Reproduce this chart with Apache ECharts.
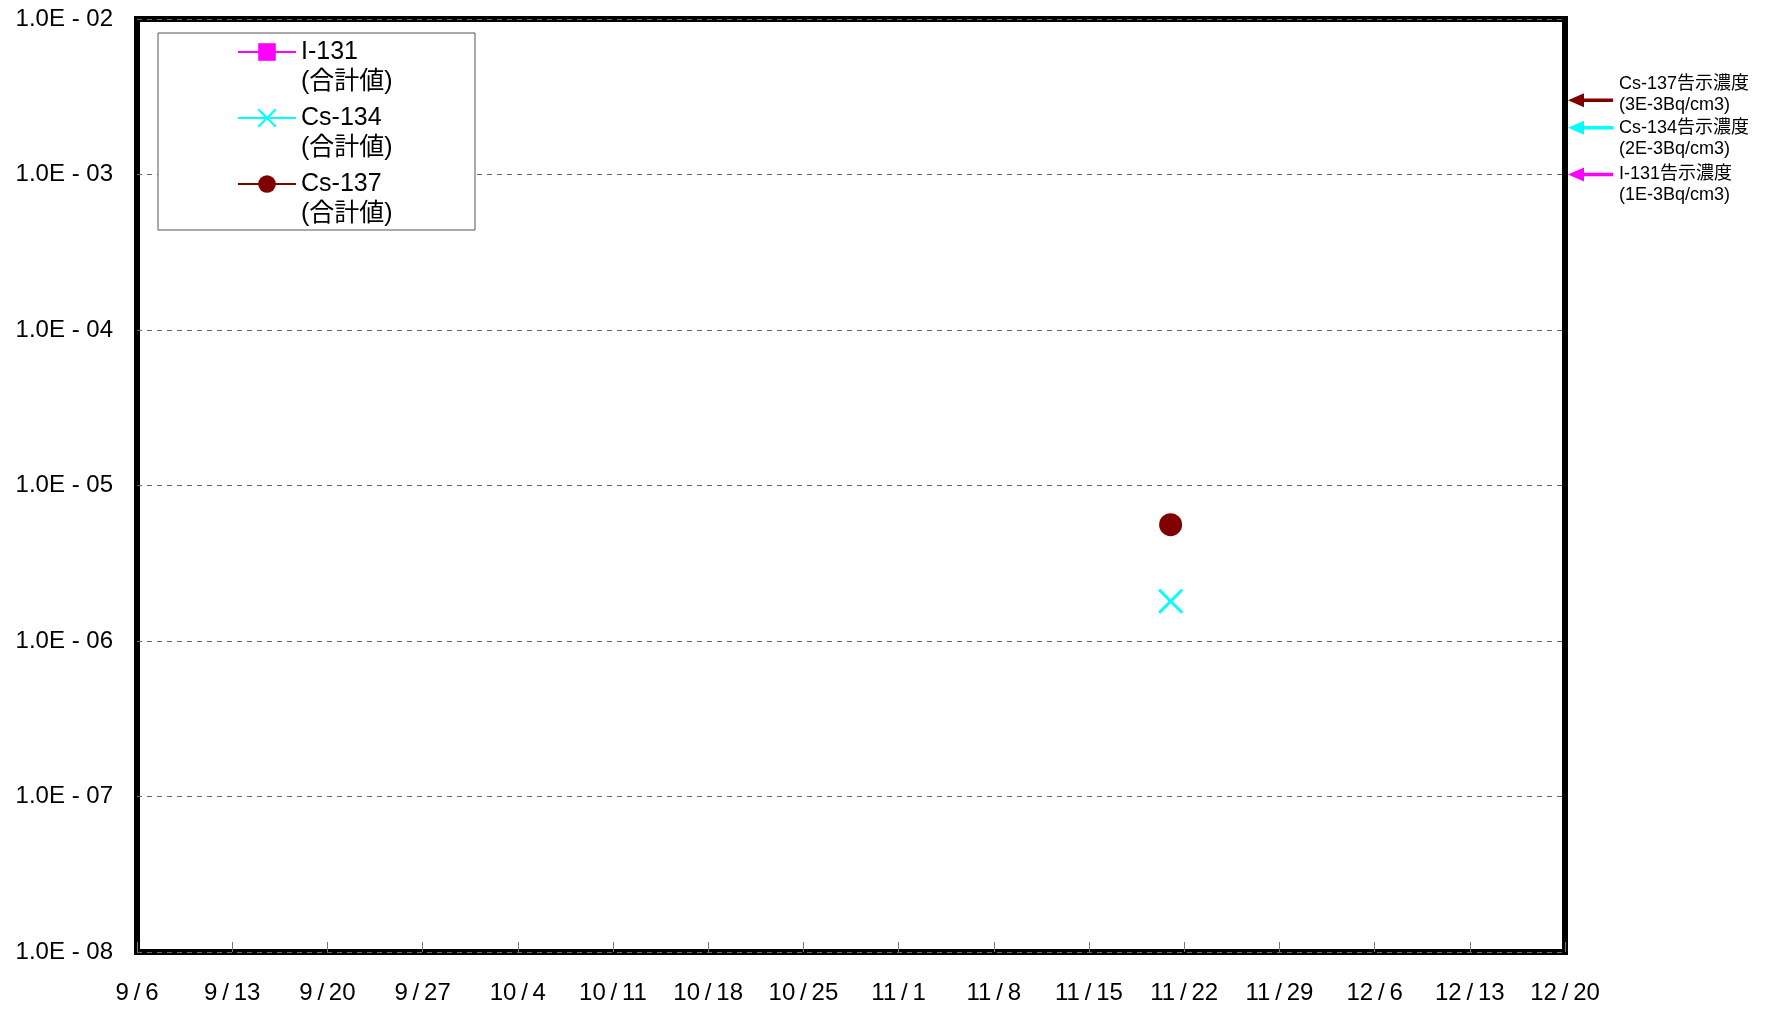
<!DOCTYPE html>
<html>
<head>
<meta charset="utf-8">
<title>放射性物質濃度の推移</title>
<script src="https://cdn.jsdelivr.net/npm/echarts@6/dist/echarts.min.js"></script>
<style>
    html, body { margin: 0; padding: 0; background: #fff; }
    #chart { width: 1771px; height: 1011px; }
</style>
</head>
<body>
<div id="chart"></div>
<script>
/** 測定日 (2011年) */
var sampleDates = ['11/21'];
/** 各核種の測定値 Bq/cm3 (合計値) , null = 不検出 */
var i131Values = [null];
var cs134Values = [1.8e-6];
var cs137Values = [5.6e-6];
/** x軸の目盛 (1週間ごと) */
var tickLabels = ['9/6', '9/13', '9/20', '9/27', '10/4', '10/11', '10/18', '10/25',
                  '11/1', '11/8', '11/15', '11/22', '11/29', '12/6', '12/13', '12/20'];
/** 告示濃度 */
var limitNames = ['Cs-137告示濃度', 'Cs-134告示濃度', 'I-131告示濃度'];
var limitNotes = ['(3E-3Bq/cm3)', '(2E-3Bq/cm3)', '(1E-3Bq/cm3)'];
var limitValues = [3e-3, 2e-3, 1e-3];

(function(win){
    var FONT = "'Liberation Sans', 'Noto Sans CJK JP', sans-serif";
    var COLOR_I131 = '#FF00FF', COLOR_CS134 = '#00FFFF', COLOR_CS137 = '#800000';
    var limitColors = [COLOR_CS137, COLOR_CS134, COLOR_I131];

    //9/6 からの日数
    var toDay = function(md){
        var p = md.split('/');
        return (Date.UTC(2011, p[0] - 1, +p[1]) - Date.UTC(2011, 8, 6)) / 86400000;
    };
    var toSeries = function(values){
        var arr = [];
        for(var i = 0; i < sampleDates.length; i++)
            arr.push([toDay(sampleDates[i]), values[i]]);
        return arr;
    };
    var pad2 = function(n){ return (n < 10 ? '0' : '') + n; };

    var dom = document.getElementById('chart');
    var chart = echarts.init(dom);
    var options = {
        animation: false,
        backgroundColor: '#fff',
        grid: {
            left: 137, right: 206, top: 19, bottom: 59,
            show: true,
            borderColor: '#000',
            borderWidth: 6
        },
        legend: {
            orient: 'vertical',
            left: 237,
            top: 7,
            padding: 0,
            itemGap: -24,
            itemWidth: 58,
            itemHeight: 22,
            selectedMode: false,
            //先頭の空行で1行目をアイコンの高さに合わせる
            formatter: function(name){ return '\n' + name + '\n(合計値)'; },
            textStyle: {
                fontFamily: FONT,
                fontSize: 25,
                lineHeight: 30,
                color: '#000'
            },
            data: ['I-131', 'Cs-134', 'Cs-137']
        },
        xAxis: {
            type: 'value',
            min: 0,
            max: (tickLabels.length - 1) * 7,
            interval: 7,
            axisLine: { show: false },
            axisTick: { show: true, inside: true, length: 10, lineStyle: { color: '#777', width: 1 } },
            splitLine: { show: false },
            axisLabel: {
                fontFamily: FONT,
                fontSize: 24,
                color: '#000',
                margin: 29,
                formatter: function(v){
                    var s = tickLabels[Math.round(v / 7)] || '';
                    return s.replace('/', '\u2009/\u2009');
                }
            }
        },
        yAxis: {
            type: 'log',
            logBase: 10,
            min: 1e-8,
            max: 1e-2,
            splitNumber: 6,
            axisLine: { show: false },
            axisTick: { show: false },
            splitLine: { show: true, lineStyle: { color: '#666', width: 1, type: [5, 5] } },
            axisLabel: {
                fontFamily: FONT,
                fontSize: 24,
                color: '#000',
                margin: 24,
                formatter: function(v){
                    var e = Math.round(Math.log(v) / Math.LN10);
                    var m = v / Math.pow(10, e);
                    return m.toFixed(1) + 'E ' + (e < 0 ? '- ' : '') + pad2(Math.abs(e));
                }
            }
        },
        series: [
            {
                name: 'I-131',
                type: 'line',
                symbol: 'rect',
                symbolSize: 20,
                color: COLOR_I131,
                lineStyle: { color: COLOR_I131, width: 2 },
                itemStyle: { color: COLOR_I131 },
                data: toSeries(i131Values)
            },
            {
                name: 'Cs-134',
                type: 'line',
                symbol: 'path://M0,0L20,20M20,0L0,20',
                symbolSize: 23,
                color: COLOR_CS134,
                lineStyle: { color: COLOR_CS134, width: 2 },
                itemStyle: { color: COLOR_CS134, borderColor: COLOR_CS134, borderWidth: 3 },
                data: toSeries(cs134Values)
            },
            {
                name: 'Cs-137',
                type: 'line',
                symbol: 'circle',
                symbolSize: 23,
                color: COLOR_CS137,
                lineStyle: { color: COLOR_CS137, width: 2 },
                itemStyle: { color: COLOR_CS137, borderWidth: 0 },
                data: toSeries(cs137Values)
            }
        ]
    };
    chart.setOption(options);

    //凡例の枠と右側の告示濃度の矢印
    var drawMarks = function(){
        var graphics = [{
            type: 'rect',
            z: 1,
            shape: { x: 158, y: 33, width: 317, height: 197 },
            style: { fill: '#fff', stroke: '#555', lineWidth: 1 }
        }];
        var right = chart.convertToPixel({xAxisIndex: 0}, (tickLabels.length - 1) * 7);
        var tipX = right + 3;
        var arrowY = [], textY = [];
        for(var i = 0; i < limitValues.length; i++)
            arrowY.push(chart.convertToPixel({yAxisIndex: 0}, limitValues[i]));
        //文字は下から積み上げる
        for(var k = limitValues.length - 1; k >= 0; k--)
            textY[k] = (k == limitValues.length - 1) ? arrowY[k] : Math.min(arrowY[k], textY[k + 1] - 44);

        for(var j = 0; j < limitValues.length; j++){
            var y = arrowY[j], c = limitColors[j];
            graphics.push({
                type: 'line',
                shape: { x1: tipX + 12, y1: y, x2: tipX + 45, y2: y },
                style: { stroke: c, lineWidth: 3.5 }
            });
            graphics.push({
                type: 'polygon',
                shape: { points: [[tipX, y], [tipX + 16, y - 7], [tipX + 16, y + 7]] },
                style: { fill: c }
            });
            graphics.push({
                type: 'text',
                x: tipX + 51,
                y: textY[j] - 10.5,
                style: {
                    text: limitNames[j] + '\n' + limitNotes[j],
                    fontFamily: FONT,
                    fontSize: 18,
                    lineHeight: 21,
                    fill: '#000',
                    verticalAlign: 'top'
                }
            });
        }
        chart.setOption({ graphic: graphics });
    };
    drawMarks();

    win.addEventListener('resize', function(){
        chart.resize();
        drawMarks();
    });
})(window);
</script>
</body>
</html>
